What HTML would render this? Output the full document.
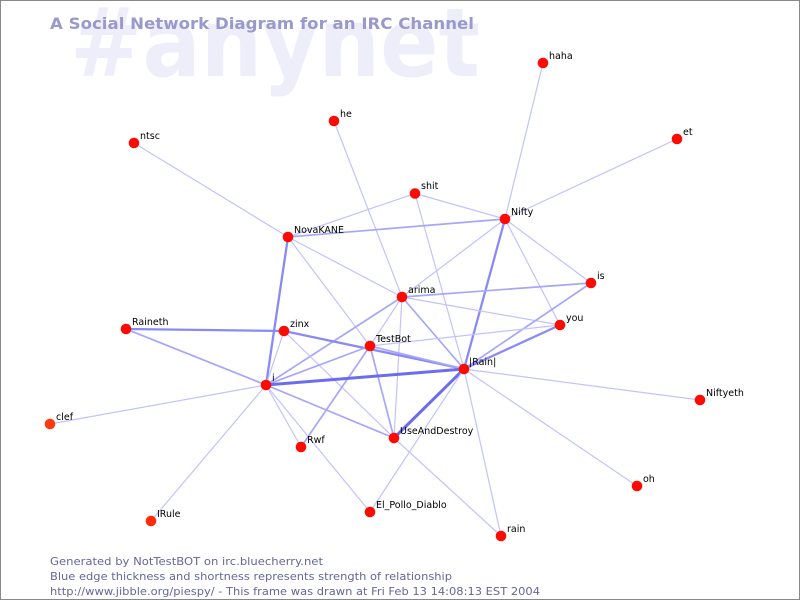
<!DOCTYPE html>
<html><head><meta charset="utf-8"><style>
html,body{margin:0;padding:0;background:#fff;}
svg{display:block;}
.t1{stroke:#c2c2ff;stroke-width:1.2;}
.t2{stroke:#a6a6fc;stroke-width:1.7;}
.t3{stroke:#8a8af6;stroke-width:2.3;}
.t4{stroke:#6c6cee;stroke-width:3;}
.lb{font-family:"DejaVu Sans","Liberation Sans",sans-serif;font-size:9.5px;fill:#000;}
.ft{font-family:"DejaVu Sans","Liberation Sans",sans-serif;font-size:11px;fill:#66669c;}
</style></head><body>
<svg width="800" height="600" viewBox="0 0 800 600" xmlns="http://www.w3.org/2000/svg">
<rect x="0" y="0" width="800" height="600" fill="#fff"/>
<text x="70" y="76" font-family="DejaVu Sans, Liberation Sans, sans-serif" font-weight="bold" font-size="95" fill="#eeeefb" textLength="410" lengthAdjust="spacingAndGlyphs">#anynet</text>
<text x="50" y="29" font-family="DejaVu Sans, Liberation Sans, sans-serif" font-weight="bold" font-size="16" fill="#9999cc" textLength="424" lengthAdjust="spacingAndGlyphs">A Social Network Diagram for an IRC Channel</text>
<g fill="none" stroke-linecap="round">
<line class="t1" x1="134" y1="143" x2="288" y2="237"/>
<line class="t1" x1="334" y1="121" x2="402" y2="297"/>
<line class="t1" x1="543" y1="63" x2="505" y2="219"/>
<line class="t1" x1="677" y1="139" x2="505" y2="219"/>
<line class="t1" x1="415" y1="193.5" x2="288" y2="237"/>
<line class="t1" x1="415" y1="193.5" x2="505" y2="219"/>
<line class="t1" x1="415" y1="193.5" x2="464" y2="369"/>
<line class="t2" x1="288" y1="237" x2="505" y2="219"/>
<line class="t1" x1="288" y1="237" x2="402" y2="297"/>
<line class="t1" x1="288" y1="237" x2="370" y2="346"/>
<line class="t3" x1="288" y1="237" x2="266" y2="385"/>
<line class="t1" x1="505" y1="219" x2="402" y2="297"/>
<line class="t1" x1="505" y1="219" x2="591" y2="283"/>
<line class="t1" x1="505" y1="219" x2="560" y2="325"/>
<line class="t3" x1="505" y1="219" x2="464" y2="369"/>
<line class="t2" x1="402" y1="297" x2="591" y2="283"/>
<line class="t1" x1="402" y1="297" x2="560" y2="325"/>
<line class="t2" x1="402" y1="297" x2="464" y2="369"/>
<line class="t1" x1="402" y1="297" x2="370" y2="346"/>
<line class="t2" x1="402" y1="297" x2="266" y2="385"/>
<line class="t1" x1="402" y1="297" x2="394" y2="438"/>
<line class="t2" x1="591" y1="283" x2="464" y2="369"/>
<line class="t3" x1="560" y1="325" x2="464" y2="369"/>
<line class="t1" x1="560" y1="325" x2="370" y2="346"/>
<line class="t3" x1="126" y1="329" x2="284" y2="331"/>
<line class="t2" x1="126" y1="329" x2="266" y2="385"/>
<line class="t1" x1="284" y1="331" x2="266" y2="385"/>
<line class="t3" x1="284" y1="331" x2="464" y2="369"/>
<line class="t1" x1="284" y1="331" x2="394" y2="438"/>
<line class="t2" x1="370" y1="346" x2="464" y2="369"/>
<line class="t2" x1="370" y1="346" x2="266" y2="385"/>
<line class="t2" x1="370" y1="346" x2="301" y2="447"/>
<line class="t2" x1="370" y1="346" x2="394" y2="438"/>
<line class="t4" x1="266" y1="385" x2="464" y2="369"/>
<line class="t1" x1="266" y1="385" x2="50" y2="424"/>
<line class="t1" x1="266" y1="385" x2="151" y2="521"/>
<line class="t1" x1="266" y1="385" x2="301" y2="447"/>
<line class="t2" x1="266" y1="385" x2="394" y2="438"/>
<line class="t1" x1="266" y1="385" x2="370" y2="512"/>
<line class="t4" x1="464" y1="369" x2="394" y2="438"/>
<line class="t1" x1="464" y1="369" x2="700" y2="400"/>
<line class="t1" x1="464" y1="369" x2="637" y2="486"/>
<line class="t1" x1="464" y1="369" x2="501" y2="536"/>
<line class="t1" x1="464" y1="369" x2="370" y2="512"/>
<line class="t1" x1="394" y1="438" x2="501" y2="536"/>
</g>
<g fill="#ff0a00">
<circle cx="543" cy="63" r="5.3"/>
<circle cx="334" cy="121" r="5.3"/>
<circle cx="677" cy="139" r="5.3"/>
<circle cx="134" cy="143" r="5.3"/>
<circle cx="415" cy="193.5" r="5.3"/>
<circle cx="505" cy="219" r="5.3"/>
<circle cx="288" cy="237" r="5.3"/>
<circle cx="591" cy="283" r="5.3"/>
<circle cx="402" cy="297" r="5.3"/>
<circle cx="126" cy="329" r="5.3"/>
<circle cx="284" cy="331" r="5.3"/>
<circle cx="560" cy="325" r="5.3"/>
<circle cx="370" cy="346" r="5.3"/>
<circle cx="464" cy="369" r="5.3"/>
<circle cx="266" cy="385" r="5.3"/>
<circle cx="700" cy="400" r="5.3"/>
<circle cx="50" cy="424" r="5.3" fill="#ff3a10"/>
<circle cx="394" cy="438" r="5.3"/>
<circle cx="301" cy="447" r="5.3"/>
<circle cx="637" cy="486" r="5.3"/>
<circle cx="151" cy="521" r="5.3" fill="#ff2a0a"/>
<circle cx="370" cy="512" r="5.3"/>
<circle cx="501" cy="536" r="5.3"/>
</g>
<g class="lb">
<text x="549" y="59">haha</text>
<text x="340" y="117">he</text>
<text x="683" y="135">et</text>
<text x="140" y="139">ntsc</text>
<text x="421" y="189">shit</text>
<text x="511" y="215">Nifty</text>
<text x="294" y="233">NovaKANE</text>
<text x="597" y="279">is</text>
<text x="408" y="293">arima</text>
<text x="132" y="325">Raineth</text>
<text x="290" y="327">zinx</text>
<text x="566" y="321">you</text>
<text x="376" y="342">TestBot</text>
<text x="469" y="365">|Rain|</text>
<text x="272" y="381">i</text>
<text x="706" y="396">Niftyeth</text>
<text x="56" y="420">clef</text>
<text x="400" y="434">UseAndDestroy</text>
<text x="307" y="443">Rwf</text>
<text x="643" y="482">oh</text>
<text x="157" y="517">IRule</text>
<text x="376" y="508">El_Pollo_Diablo</text>
<text x="507" y="532">rain</text>
</g>
<text class="ft" x="50" y="565" textLength="273" lengthAdjust="spacingAndGlyphs">Generated by NotTestBOT on irc.bluecherry.net</text>
<text class="ft" x="50" y="580" textLength="402" lengthAdjust="spacingAndGlyphs">Blue edge thickness and shortness represents strength of relationship</text>
<text class="ft" x="50" y="595" textLength="490" lengthAdjust="spacingAndGlyphs">http://www.jibble.org/piespy/ - This frame was drawn at Fri Feb 13 14:08:13 EST 2004</text>
<rect x="0.5" y="0.5" width="799" height="599" fill="none" stroke="#888" stroke-width="1"/>
</svg>
</body></html>
